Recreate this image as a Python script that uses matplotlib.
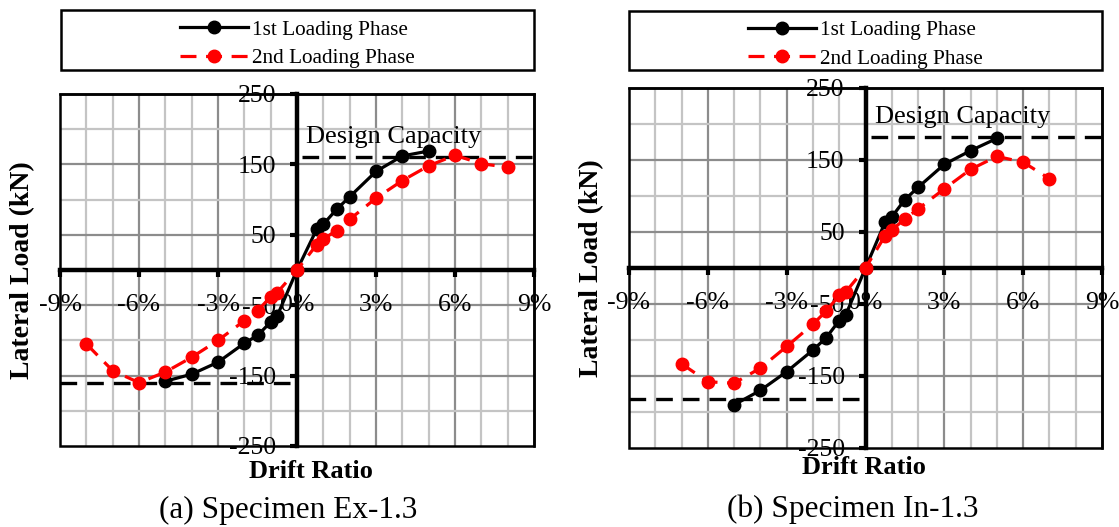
import matplotlib
matplotlib.use('Agg')
import matplotlib.pyplot as plt
from matplotlib.lines import Line2D
from matplotlib.patches import Rectangle

plt.rcParams['font.family'] = ['Liberation Serif', 'DejaVu Serif']
plt.rcParams['axes.unicode_minus'] = False

# drift ratio (%) and lateral load (kN)
ex_drift_1 = [-5, -4, -3, -2, -1.5, -1, -0.75, 0, 0.75, 1, 1.5, 2, 3, 4, 5]
ex_load_1 = [-158, -148, -131, -104, -93, -74, -65, 0, 58, 65, 86, 104, 140, 162, 169]
ex_drift_2 = [-8, -7, -6, -5, -4, -3, -2, -1.5, -1, -0.75, 0, 0.75, 1, 1.5, 2, 3, 4, 5, 6, 7, 8]
ex_load_2 = [-105, -143, -160, -145, -124, -100, -72, -58, -38, -32, 0, 36, 44, 56, 72, 102, 127, 148, 163, 151, 146]
ex_capacity = [160, -160]

in_drift_1 = [-5, -4, -3, -2, -1.5, -1, -0.75, 0, 0.75, 1, 1.5, 2, 3, 4, 5]
in_load_1 = [-190, -170, -144, -114, -97, -73, -65, 0, 64, 71, 95, 112, 144, 163, 180]
in_drift_2 = [-7, -6, -5, -4, -3, -2, -1.5, -1, -0.75, 0, 0.75, 1, 1.5, 2, 3, 4, 5, 6, 7]
in_load_2 = [-133, -158, -160, -139, -109, -78, -60, -38, -33, 0, 45, 53, 68, 82, 110, 137, 155, 147, 124]
in_capacity = [182, -182]

x_ticks = [-9, -6, -3, 0, 3, 6, 9]
y_ticks = [-250, -150, -50, 50, 150, 250]

W, H = 1119, 527


def px(x, y):
    # pixel position (from top-left) to figure fraction
    return x / W, 1 - y / H


def draw_panel(fig, rect, legend_rect, drift_1, load_1, drift_2, load_2, capacity, caption, label_pos):
    ax = fig.add_axes(rect)
    ax.set_xlim(-9, 9)
    ax.set_ylim(-250, 250)

    # grid: every 1% / 50 kN, darker on the major steps
    for x in range(-8, 9):
        major = x % 3 == 0
        ax.axvline(x, color='#8c8c8c' if major else '#c4c4c4', lw=1.6, zorder=0)
    for y in range(-200, 250, 50):
        major = y in y_ticks
        ax.axhline(y, color='#8c8c8c' if major else '#c4c4c4', lw=1.6, zorder=0)

    ax.spines['left'].set_position('zero')
    ax.spines['bottom'].set_position('zero')
    ax.spines['left'].set_linewidth(3.2)
    ax.spines['bottom'].set_linewidth(3.2)
    ax.spines['top'].set_linewidth(1.8)
    ax.spines['right'].set_linewidth(1.8)
    ax.add_patch(Rectangle((0, 0), 1, 1, transform=ax.transAxes, fill=False,
                           lw=1.8, ec='black', clip_on=False, zorder=5))

    ax.set_xticks(x_ticks)
    ax.set_xticklabels([f'{t}%' for t in x_ticks])
    ax.set_yticks(y_ticks)
    ax.tick_params(axis='both', direction='out', length=5, width=3, labelsize=18.5, colors='black')
    ax.tick_params(axis='x', pad=12)
    ax.tick_params(axis='y', pad=10)

    # design capacity
    ax.plot([0.2, 9], [capacity[0]] * 2, color='black', lw=2.4, ls=(0, (5, 3)), zorder=3)
    ax.plot([-9, -0.2], [capacity[1]] * 2, color='black', lw=2.4, ls=(0, (5, 3)), zorder=3)
    ax.text(0.35, capacity[0] + 20, 'Design Capacity', fontsize=19, va='baseline', ha='left', zorder=6)

    ax.plot(drift_1, load_1, '-o', color='black', lw=2.3, ms=9, zorder=4)
    ax.plot(drift_2, load_2, 'o', color='#ff0000', ls=(0, (5, 3)), lw=2.3, ms=9, zorder=4)

    ylab_x, xlab_x, xlab_y, cap_x, cap_y = label_pos
    fig.text(*px(ylab_x, (rect_px_top(rect) + rect_px_bottom(rect)) / 2), 'Lateral Load (kN)',
             fontsize=20, fontweight='bold', rotation=90, ha='center', va='center')
    fig.text(*px(xlab_x, xlab_y), 'Drift Ratio', fontsize=19, fontweight='bold', ha='center', va='center')
    fig.text(*px(cap_x, cap_y), caption, fontsize=22.5, ha='center', va='center')

    # legend box above the plot
    fig.patches.append(Rectangle((legend_rect[0], legend_rect[1]), legend_rect[2], legend_rect[3],
                                 transform=fig.transFigure, fill=False, lw=1.8, ec='black'))
    handles = [
        Line2D([0], [0], color='black', lw=2.3, marker='o', ms=9, label='1st Loading Phase'),
        Line2D([0], [0], color='#ff0000', lw=2.3, ls=(0, (5, 3)), marker='o', ms=9, label='2nd Loading Phase'),
    ]
    fig.legend(handles=handles, loc='center', frameon=False, fontsize=15.3,
               handlelength=3.2, handletextpad=0.2, labelspacing=0.4, borderpad=0,
               bbox_to_anchor=(legend_rect[0] + legend_rect[2] / 2,
                               legend_rect[1] + legend_rect[3] / 2 - 4 / H))
    return ax


def rect_px_top(rect):
    return (1 - rect[1] - rect[3]) * H


def rect_px_bottom(rect):
    return (1 - rect[1]) * H


fig = plt.figure(figsize=(11.19, 5.27), dpi=100)
draw_panel(fig, [60 / W, 1 - 446 / H, 474 / W, 352 / H], [61 / W, 1 - 70 / H, 473 / W, 60 / H],
           ex_drift_1, ex_load_1, ex_drift_2, ex_load_2, ex_capacity, '(a) Specimen Ex-1.3',
           (23, 311, 471, 288, 510))
draw_panel(fig, [629 / W, 1 - 448 / H, 473 / W, 360 / H], [629 / W, 1 - 70 / H, 473 / W, 59 / H],
           in_drift_1, in_load_1, in_drift_2, in_load_2, in_capacity, '(b) Specimen In-1.3',
           (592, 864, 468, 853, 509))

fig.savefig('out.png', dpi=100)
